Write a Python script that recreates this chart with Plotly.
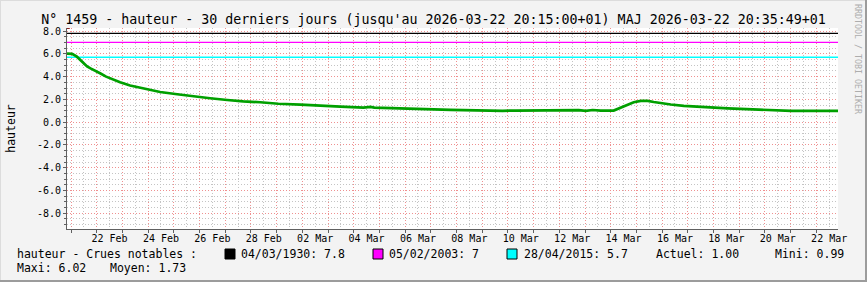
import plotly.graph_objects as go
import pandas as pd

# ---------------- data ----------------
TITLE = "N° 1459 - hauteur - 30 derniers jours (jusqu'au 2026-03-22 20:15:00+01) MAJ 2026-03-22 20:35:49+01"
START = "2026-02-20 20:15"
END = "2026-03-22 20:15"

TIMES = [
    "2026-02-20 20:15", "2026-02-21 01:00", "2026-02-21 05:30", "2026-02-21 08:30",
    "2026-02-21 11:15", "2026-02-21 15:00", "2026-02-21 18:40", "2026-02-21 23:20",
    "2026-02-22 04:00", "2026-02-22 08:45", "2026-02-22 14:15", "2026-02-22 21:50",
    "2026-02-23 07:10", "2026-02-23 19:20", "2026-02-24 11:15", "2026-02-25 03:10",
    "2026-02-25 18:05", "2026-02-26 09:55", "2026-02-27 01:50", "2026-02-27 16:50",
    "2026-02-28 08:45", "2026-03-01 01:35", "2026-03-01 22:10", "2026-03-02 12:10",
    "2026-03-03 11:35", "2026-03-04 09:05", "2026-03-04 15:35", "2026-03-04 19:15",
    "2026-03-05 21:30", "2026-03-07 18:20", "2026-03-09 19:00", "2026-03-09 22:45",
    "2026-03-10 07:10", "2026-03-12 18:05", "2026-03-13 00:35", "2026-03-13 07:10",
    "2026-03-13 14:40", "2026-03-14 02:45", "2026-03-14 09:15", "2026-03-14 15:50",
    "2026-03-14 21:30", "2026-03-15 04:05", "2026-03-15 10:35", "2026-03-15 16:10",
    "2026-03-15 22:45", "2026-03-16 08:05", "2026-03-16 20:15", "2026-03-17 12:10",
    "2026-03-18 13:20", "2026-03-19 18:20", "2026-03-21 00:15", "2026-03-22 20:15",
]
LEVELS = [
    6.02, 6.00, 5.75, 5.46,
    5.17, 4.90, 4.70, 4.50,
    4.25, 4.00, 3.78, 3.50,
    3.22, 2.95, 2.65, 2.45,
    2.25, 2.10, 1.95, 1.82,
    1.75, 1.62, 1.54, 1.46,
    1.37, 1.28, 1.35, 1.28,
    1.19, 1.08, 1.00, 0.99,
    1.02, 1.06, 1.00, 1.07,
    1.02, 1.02, 1.25, 1.55,
    1.75, 1.87, 1.87, 1.77,
    1.67, 1.55, 1.43, 1.32,
    1.21, 1.10, 1.00, 1.00,
]

FLOOD_DATES = ["04/03/1930", "05/02/2003", "28/04/2015"]
FLOOD_LEVELS = [7.8, 7, 5.7]
FLOOD_COLORS = ["#000000", "#ff00ff", "#00ffff"]

X_LABELS = ["22 Feb", "24 Feb", "26 Feb", "28 Feb", "02 Mar", "04 Mar", "06 Mar",
            "08 Mar", "10 Mar", "12 Mar", "14 Mar", "16 Mar", "18 Mar", "20 Mar", "22 Mar"]
Y_TICKS = [-8, -6, -4, -2, 0, 2, 4, 6, 8]
Y_LABELS = ["-8.0", "-6.0", "-4.0", "-2.0", "0.0", "2.0", "4.0", "6.0", "8.0"]
Y_RANGE = [-9.38, 8.27]

STATS = {"Actuel": "1.00", "Mini": "0.99", "Maxi": "6.02", "Moyen": "1.73"}

# ---------------- layout helpers ----------------
W_PX, H_PX = 867, 282
L, R, T, B = 67, 838, 28, 229
PW, PH = R - L, B - T


def px(x):
    return (x - L) / PW


def py(y):
    return (B - y) / PH


MONO = "DejaVu Sans Mono"
RED_GRID = "#ef9090"
GRAY_GRID = "#c4c4c4"

# daily ticks: noon -> gray grid + labels, midnight -> red grid
noons = pd.date_range("2026-02-21 12:00", "2026-03-22 12:00", freq="D")
label_map = {pd.Timestamp(f"2026-{'02' if 'Feb' in s else '03'}-{s[:2]} 12:00"): s for s in X_LABELS}
noon_text = [label_map.get(d, "") for d in noons]
midnights = pd.date_range("2026-02-21 00:00", "2026-03-22 00:00", freq="D")

fig = go.Figure()

for d, lvl, col in zip(FLOOD_DATES, FLOOD_LEVELS, FLOOD_COLORS):
    fig.add_trace(go.Scatter(x=[START, END], y=[lvl, lvl], mode="lines",
                             line=dict(color=col, width=1.3), hoverinfo="skip",
                             showlegend=False))

fig.add_trace(go.Scatter(x=TIMES, y=LEVELS, mode="lines",
                         line=dict(color="#00a000", width=2.7), showlegend=False))

fig.update_layout(
    width=W_PX, height=H_PX,
    margin=dict(l=L, r=W_PX - R, t=T, b=H_PX - B, pad=0),
    paper_bgcolor="#f3f3f3", plot_bgcolor="#ffffff",
    font=dict(family=MONO, size=10, color="#000000"),
    title=dict(text=TITLE, font=dict(family=MONO, size=13.3, color="#000000"),
               x=0.5, xref="container", xanchor="center",
               y=1 - 19 / H_PX, yref="container", yanchor="middle"),
    showlegend=False,
)

fig.update_xaxes(
    type="date", range=[START, END],
    tickmode="array", tickvals=list(noons), ticktext=noon_text,
    showgrid=True, gridcolor=GRAY_GRID, griddash="1px,2px", gridwidth=1,
    ticks="", tickfont=dict(family=MONO, size=10),
    showline=True, linecolor="#606060", linewidth=1,
    zeroline=False,
    minor=dict(tickmode="array", tickvals=list(midnights), showgrid=True,
               gridcolor=RED_GRID, griddash="1px,2px", gridwidth=1,
               ticks="outside", ticklen=3, tickcolor="#606060"),
)

fig.update_yaxes(
    range=Y_RANGE, tickmode="array", tickvals=Y_TICKS, ticktext=Y_LABELS,
    showgrid=True, gridcolor=RED_GRID, griddash="1px,2px", gridwidth=1,
    ticks="outside", ticklen=3, tickcolor="#606060",
    tickfont=dict(family=MONO, size=10),
    showline=True, linecolor="#606060", linewidth=1, zeroline=False,
    title=dict(text="hauteur", font=dict(family=MONO, size=11.5), standoff=18),
    minor=dict(dtick=0.5, tick0=0, showgrid=True, gridcolor=GRAY_GRID,
               griddash="1px,2px", gridwidth=1, ticks="outside", ticklen=2,
               tickcolor="#606060"),
)

shapes = []
# axis arrows
shapes.append(dict(type="path", xref="x", yref="y", xsizemode="pixel", ysizemode="pixel",
                   xanchor=END, yanchor=Y_RANGE[0], path="M 0 3 L 7 0 L 0 -3 Z",
                   fillcolor="#8b2020", line=dict(width=0)))
shapes.append(dict(type="path", xref="x", yref="y", xsizemode="pixel", ysizemode="pixel",
                   xanchor=START, yanchor=Y_RANGE[1], path="M -3 -1 L 0 6 L 3 -1 Z",
                   fillcolor="#8b2020", line=dict(width=0)))
# frame
shapes.append(dict(type="line", xref="paper", yref="paper", x0=px(0), x1=px(W_PX),
                   y0=py(0.5), y1=py(0.5), line=dict(color="#dcdcdc", width=1)))
shapes.append(dict(type="line", xref="paper", yref="paper", x0=px(0.5), x1=px(0.5),
                   y0=py(0), y1=py(H_PX), line=dict(color="#dcdcdc", width=1)))
shapes.append(dict(type="line", xref="paper", yref="paper", x0=px(0), x1=px(W_PX),
                   y0=py(H_PX - 1), y1=py(H_PX - 1), line=dict(color="#9c9c9c", width=2)))
shapes.append(dict(type="line", xref="paper", yref="paper", x0=px(W_PX - 1), x1=px(W_PX - 1),
                   y0=py(0), y1=py(H_PX), line=dict(color="#9c9c9c", width=2)))

annotations = []


def text(x, y, s, size=11.5, color="#000000", **kw):
    annotations.append(dict(text=s, x=px(x), y=py(y), xref="paper", yref="paper",
                            xanchor=kw.pop("xanchor", "left"), yanchor="middle",
                            showarrow=False, font=dict(family=MONO, size=size, color=color),
                            **kw))


LEG_Y1, LEG_Y2 = 254, 268
text(15, LEG_Y1, "hauteur - Crues notables :")
sq_x = [225, 373, 507]
txt_x = [239, 387, 522]
for sx, tx, d, lvl, col in zip(sq_x, txt_x, FLOOD_DATES, FLOOD_LEVELS, FLOOD_COLORS):
    shapes.append(dict(type="rect", xref="paper", yref="paper", x0=px(sx), x1=px(sx + 10),
                       y0=py(LEG_Y1 + 5), y1=py(LEG_Y1 - 5), fillcolor=col,
                       line=dict(color="#000000", width=1)))
    text(tx, LEG_Y1, f"{d}: {lvl:g}")
text(654, LEG_Y1, f"Actuel: {STATS['Actuel']}")
text(773, LEG_Y1, f"Mini: {STATS['Mini']}")
text(15, LEG_Y2, f"Maxi: {STATS['Maxi']}")
text(108, LEG_Y2, f"Moyen: {STATS['Moyen']}")
# watermark
annotations.append(dict(text="RRDTOOL / TOBI OETIKER", x=px(858), y=py(59),
                        xref="paper", yref="paper", textangle=90, showarrow=False,
                        xanchor="center", yanchor="middle",
                        font=dict(family=MONO, size=8.3, color="#adadad")))

fig.update_layout(shapes=shapes, annotations=annotations)

fig.write_html("out.html")
